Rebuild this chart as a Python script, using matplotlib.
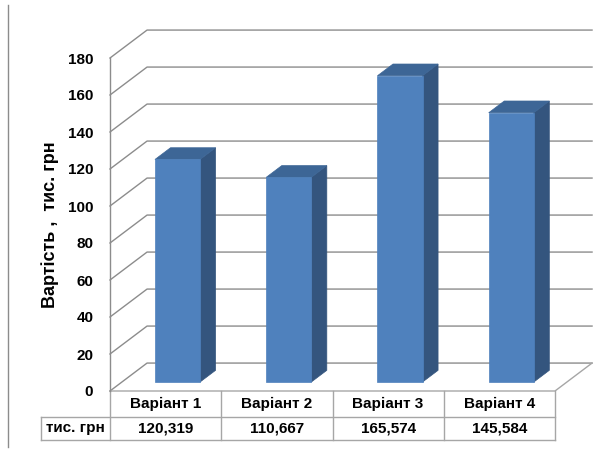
import matplotlib
matplotlib.use("Agg")
import matplotlib.pyplot as plt
from matplotlib.patches import Polygon
from matplotlib.lines import Line2D
from matplotlib.transforms import blended_transform_factory

categories = ["Варіант 1", "Варіант 2", "Варіант 3", "Варіант 4"]
values = [120.319, 110.667, 165.574, 145.584]
row_label = "тис. грн"
y_label = "Вартість ,  тис. грн"
y_ticks = list(range(0, 181, 20))

FRONT = "#4F81BD"
SIDE = "#34557E"
TOP = "#3D6696"
GRID = "#8C8C8C"
TABLE = "#A6A6A6"

# depth of the 3d box, in data units (full depth)
DEPTH_X = 0.333
DEPTH_Y = 15.1


def pt(x, v, t):
    return (x + t * DEPTH_X, v + t * DEPTH_Y)


plt.rcParams["font.family"] = ["Liberation Sans", "DejaVu Sans"]

fig = plt.figure(figsize=(6.09, 4.54), dpi=100)
ax = fig.add_axes([110 / 609, 1 - 391 / 454, 445 / 609, 333 / 454])
ax.set_xlim(0, len(categories))
ax.set_ylim(0, 180)
n = len(categories)

# back wall gridlines + left wall diagonals
for v in y_ticks:
    xs, ys = zip(pt(0, v, 0), pt(0, v, 1), pt(n, v, 1))
    ax.plot(xs, ys, color=GRID, lw=1.0, clip_on=False, zorder=1)

# floor edges
xs, ys = zip(pt(0, 0, 0), pt(n, 0, 0), pt(n, 0, 1))
ax.plot(xs, ys, color=TABLE, lw=1.0, clip_on=False, zorder=1)

# bars
t0, t1 = 0.32, 0.74
bw = 0.405
for i, h in enumerate(values):
    x0 = i + 0.5 - bw / 2
    x1 = i + 0.5 + bw / 2
    front = [pt(x0, 0, t0), pt(x1, 0, t0), pt(x1, h, t0), pt(x0, h, t0)]
    side = [pt(x1, 0, t0), pt(x1, 0, t1), pt(x1, h, t1), pt(x1, h, t0)]
    top = [pt(x0, h, t0), pt(x1, h, t0), pt(x1, h, t1), pt(x0, h, t1)]
    for poly, c in ((side, SIDE), (top, TOP), (front, FRONT)):
        ax.add_patch(Polygon(poly, closed=True, facecolor=c, edgecolor=c,
                             lw=0.5, clip_on=False, zorder=3))

for s in ("top", "right", "bottom"):
    ax.spines[s].set_visible(False)
ax.spines["left"].set_color(GRID)
ax.spines["left"].set_linewidth(1.0)
ax.set_xticks([])
ax.set_yticks(y_ticks)
ax.set_yticklabels([str(v) for v in y_ticks], fontsize=11, fontweight="bold")
ax.tick_params(axis="y", length=0, pad=12)
ax.patch.set_visible(False)

# data table under the chart
tr = blended_transform_factory(ax.transData, ax.transAxes)
row_top, row_mid, row_bot = 0.0, -0.078, -0.147
left_x = -0.62
for i in range(n + 1):
    ax.add_artist(Line2D([i, i], [row_top, row_bot], color=TABLE, lw=1.0,
                         transform=tr, clip_on=False))
ax.add_artist(Line2D([left_x, left_x], [row_mid, row_bot], color=TABLE, lw=1.0,
                     transform=tr, clip_on=False))
for yy in (row_mid, row_bot):
    ax.add_artist(Line2D([left_x, n], [yy, yy], color=TABLE, lw=1.0,
                         transform=tr, clip_on=False))
for i, (c, v) in enumerate(zip(categories, values)):
    ax.text(i + 0.5, (row_top + row_mid) / 2, c, transform=tr, ha="center",
            va="center", fontsize=11, fontweight="bold")
    ax.text(i + 0.5, (row_mid + row_bot) / 2, f"{v:.3f}".replace(".", ","),
            transform=tr, ha="center", va="center", fontsize=11,
            fontweight="bold")
ax.text(left_x / 2, (row_mid + row_bot) / 2, row_label, transform=tr,
        ha="center", va="center", fontsize=11, fontweight="bold")

fig.text(50 / 609, 1 - 225 / 454, y_label, rotation=90, ha="center",
         va="center", fontsize=13, fontweight="bold")

# chart frame left edge
fig.add_artist(Line2D([8 / 609, 8 / 609], [1 - 5 / 454, 1 - 447 / 454],
                      color=GRID, lw=1.0))

fig.savefig("out.png", dpi=100)
